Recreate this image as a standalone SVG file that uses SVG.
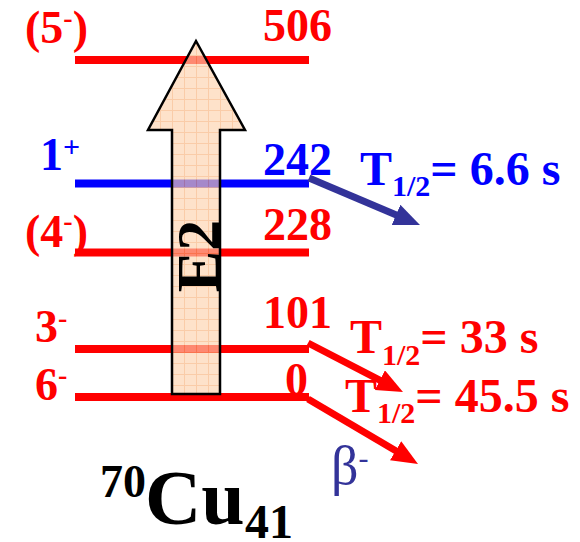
<svg xmlns="http://www.w3.org/2000/svg" width="580" height="542" viewBox="0 0 580 542">
<style>
text{font-family:"Liberation Serif","Times New Roman",serif;font-weight:bold}
.r{fill:#FF0000}
.b{fill:#0000FF}
.lvR{stroke:#FF0000;stroke-width:8}
.lvB{stroke:#0000FF;stroke-width:8}
.lbl{font-size:46px}
.t{font-size:48px}
.sub{font-size:30px}
.sup{font-size:28px}
text.beta{font-weight:normal}
</style>
<defs>
<pattern id="grid" patternUnits="userSpaceOnUse" width="12" height="11" x="172" y="0">
<rect width="12" height="11" fill="#FDD2AE"/>
<path d="M0,0.5 H12 M0.5,0 V11" stroke="#F8B07A" stroke-width="1"/>
</pattern>
<marker id="headR" markerUnits="userSpaceOnUse" markerWidth="28" markerHeight="24" refX="8" refY="11" orient="auto">
<path d="M0,0 L26,11 L0,22 z" fill="#FF0000"/>
</marker>
<marker id="headB" markerUnits="userSpaceOnUse" markerWidth="28" markerHeight="24" refX="8" refY="11" orient="auto">
<path d="M0,0 L26,11 L0,22 z" fill="#333399"/>
</marker>
</defs>
<g id="level-506"><line class="lvR" x1="75" y1="60" x2="309" y2="60"/><text class="r lbl" x="25" y="43">(5<tspan class="sup" dy="-16">-</tspan><tspan dy="16">)</tspan></text><text class="r lbl" x="332" y="41" text-anchor="end">506</text></g>
<g id="level-242"><line class="lvB" x1="75" y1="183.5" x2="309" y2="183.5"/><text class="b lbl" x="40" y="170">1<tspan font-size="30px" dy="-13">+</tspan></text><text class="b lbl" x="332" y="175" text-anchor="end">242</text></g>
<g id="level-228"><line class="lvR" x1="75" y1="252.5" x2="309" y2="252.5"/><text class="r lbl" x="25" y="247">(4<tspan class="sup" dy="-17">-</tspan><tspan dy="17">)</tspan></text><text class="r lbl" x="332" y="240" text-anchor="end">228</text></g>
<g id="level-101"><line class="lvR" x1="75" y1="349" x2="309" y2="349"/><text class="r lbl" x="35" y="342">3<tspan class="sup" dy="-15">-</tspan></text><text class="r lbl" x="332" y="328" text-anchor="end">101</text></g>
<g id="level-0"><line class="lvR" x1="75" y1="397" x2="309" y2="397"/><text class="r lbl" x="35" y="400">6<tspan class="sup" dy="-16">-</tspan></text><text class="r lbl" x="308" y="395" text-anchor="end">0</text></g>
<g id="e2-arrow">
<polygon points="196,41 245,130 220,130 220,394 172,394 172,130 148,130" fill="url(#grid)" fill-opacity="0.65" stroke="#000" stroke-width="2.5" stroke-linejoin="miter"/>
<text transform="translate(219,256) rotate(-90)" text-anchor="middle" font-size="62px" fill="#000">E2</text>
</g>
<g id="connectors">
<line x1="309" y1="178" x2="403.4" y2="218" stroke="#333399" stroke-width="7" marker-end="url(#headB)"/>
<line x1="308" y1="343" x2="387" y2="383.8" stroke="#FF0000" stroke-width="7" marker-end="url(#headR)"/>
<line x1="308" y1="399" x2="402.5" y2="454.8" stroke="#FF0000" stroke-width="7" marker-end="url(#headR)"/>
</g>
<g id="halflife-242"><text class="b t" x="360" y="185">T<tspan class="sub" dy="11">1/2</tspan><tspan dy="-11">= 6.6 s</tspan></text></g>
<g id="halflife-101"><text class="r t" x="350" y="353">T<tspan class="sub" dy="12">1/2</tspan><tspan dy="-12">= 33 s</tspan></text></g>
<g id="halflife-0"><text class="r t" x="345" y="412">T<tspan class="sub" dy="11">1/2</tspan><tspan dy="-11">= 45.5 s</tspan></text></g>
<g id="beta"><text class="beta" x="331" y="484" font-size="54px" fill="#333399">β<tspan font-size="30px" dy="-16">-</tspan></text></g>
<g id="nucleus"><text x="100" y="497" font-size="46px" fill="#000">70</text><text x="145" y="524" font-size="78px" fill="#000">Cu</text><text x="245" y="538" font-size="48px" fill="#000">41</text></g>
</svg>
